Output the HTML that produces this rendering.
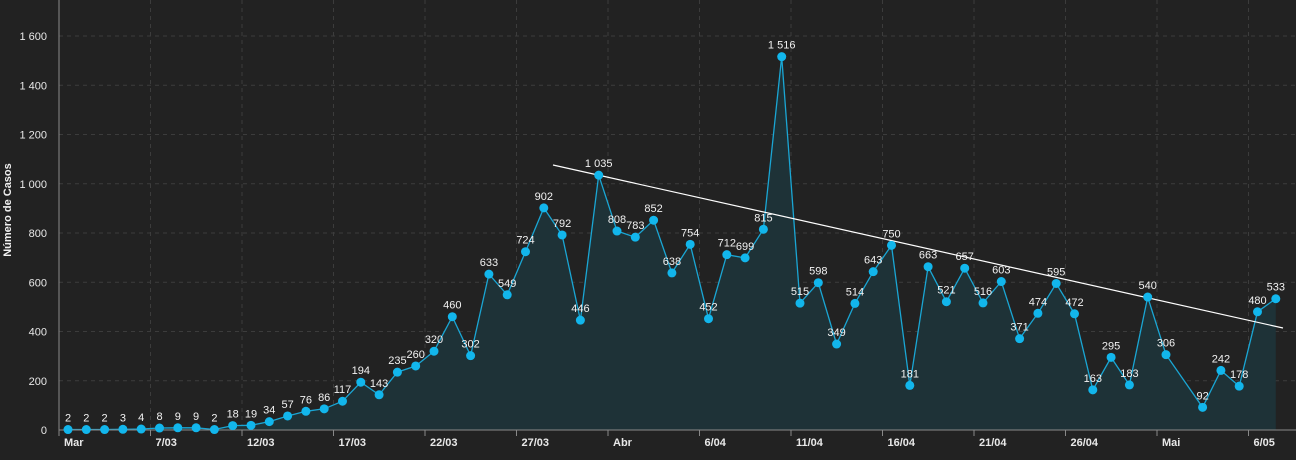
<!DOCTYPE html>
<html><head><meta charset="utf-8"><style>
html,body{margin:0;padding:0;background:#222222;}
svg{display:block;font-family:"Liberation Sans",sans-serif;}
</style></head><body>
<svg id="c" width="1296" height="460" xmlns="http://www.w3.org/2000/svg"></svg>
<script>
const vals=[2,2,2,3,4,8,9,9,2,18,19,34,57,76,86,117,194,143,235,260,320,460,302,633,549,724,902,792,446,1035,808,783,852,638,754,452,712,699,815,1516,515,598,349,514,643,750,181,663,521,657,516,603,371,474,595,472,163,295,183,540,306,null,92,242,178,480,533];
const X=i=>68+i*18.3, Y=v=>430-v*0.24625;
let s='';
// grid
for(let v=200;v<=1600;v+=200){const y=Y(v);s+=`<line x1="59" x2="1296" y1="${y}" y2="${y}" stroke="#3c3c3c" stroke-dasharray="4,4"/>`;
s+=`<text x="47" y="${y+4}" fill="#e8e8e8" font-size="11" text-anchor="end">${v>=1000?'1 '+String(v-1000).padStart(3,'0'):v}</text>`;}
s+=`<text x="47" y="434" fill="#e8e8e8" font-size="11" text-anchor="end">0</text>`;
const tl=['Mar','7/03','12/03','17/03','22/03','27/03','Abr','6/04','11/04','16/04','21/04','26/04','Mai','6/05'];
tl.forEach((t,k)=>{const x=59+k*5*18.3;if(k>0)s+=`<line x1="${x}" x2="${x}" y1="0" y2="430" stroke="#3c3c3c" stroke-dasharray="4,4"/>`;
s+=`<line x1="${x}" x2="${x}" y1="430" y2="436" stroke="#888"/>`;
s+=`<text x="${x+5}" y="446" fill="#e8e8e8" font-size="11" font-weight="bold">${t}</text>`;});
// area & line
const pts=vals.map((v,i)=>v==null?null:[X(i),Y(v)]).filter(p=>p);
const pl=pts.map(p=>p[0].toFixed(1)+','+p[1].toFixed(1)).join(' ');
s+=`<polygon points="${pts[0][0]},430 ${pl} ${pts[pts.length-1][0]},430" fill="#1e3237"/>`;
s+=`<polyline points="${pl}" fill="none" stroke="#1aa6d4" stroke-width="1.3"/>`;
s+=`<line x1="59" x2="59" y1="0" y2="430" stroke="#8a8a8a"/>`;
s+=`<line x1="59" x2="1296" y1="430" y2="430" stroke="#8a8a8a"/>`;
s+=`<line x1="553" y1="165" x2="1283" y2="328" stroke="#ffffff" stroke-width="1.2"/>`;
vals.forEach((v,i)=>{if(v==null)return;const x=X(i),y=Y(v);
s+=`<circle cx="${x}" cy="${y}" r="4.5" fill="#12b6ec"/>`;
const t=v>=1000?'1 '+String(v-1000).padStart(3,'0'):v;
s+=`<text x="${x}" y="${y-8}" fill="#f2f2f2" font-size="11" text-anchor="middle">${t}</text>`;});
s+=`<text transform="translate(11,210) rotate(-90)" fill="#f0f0f0" font-size="11" font-weight="bold" text-anchor="middle">Número de Casos</text>`;
document.getElementById('c').innerHTML=s;
</script>
</body></html>
